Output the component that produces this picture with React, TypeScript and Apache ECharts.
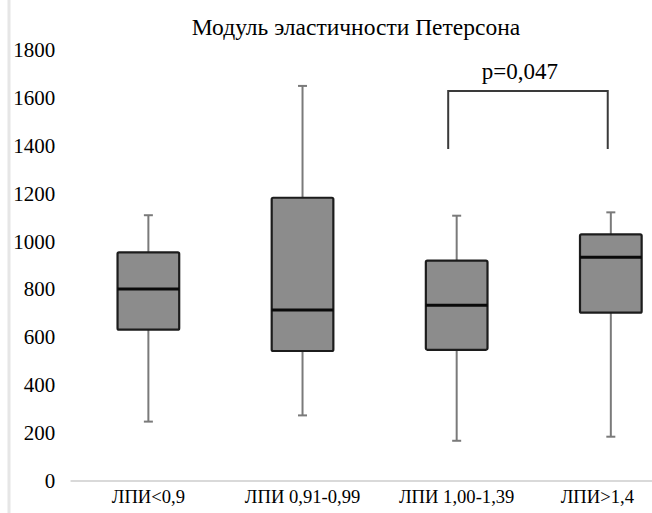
import React, { useEffect, useRef } from "react";
import * as echarts from "echarts";

const TITLE = "Модуль эластичности Петерсона";
const categories = ["ЛПИ<0,9", "ЛПИ 0,91-0,99", "ЛПИ 1,00-1,39", "ЛПИ>1,4"];
const lowWhisker = [248, 274, 168, 185];
const q1 = [632, 543, 548, 703];
const median = [802, 714, 734, 934];
const q3 = [955, 1183, 920, 1030];
const highWhisker = [1110, 1650, 1108, 1122];
const yMin = 0;
const yMax = 1800;
const yInterval = 200;
const pLabel = "p=0,047";
const bracket = [2, 3, 1387, 1629];

const FONT = "Liberation Serif";

export default function App() {
  const ref = useRef<HTMLDivElement>(null);
  useEffect(() => {
    document.body.style.margin = "0";
    const chart = echarts.init(ref.current!, undefined, { renderer: "svg" });
    const boxData = categories.map((_, i) => [
      i,
      lowWhisker[i],
      q1[i],
      median[i],
      q3[i],
      highWhisker[i],
    ]);
    const option: any = {
      animation: false,
      title: {
        text: TITLE,
        left: 356,
        top: 15,
        padding: 0,
        textAlign: "center",
        textStyle: { fontSize: 23.5, fontFamily: FONT, fontWeight: "normal", color: "#000" },
      },
      graphic: [
        {
          type: "line",
          shape: { x1: 9, y1: 0, x2: 9, y2: 513 },
          style: { stroke: "#e6e6e6", lineWidth: 3 },
          silent: true,
        },
      ],
      grid: { left: 71.3, top: 50, width: 616.6, height: 431, outerBoundsMode: "none", containLabel: false },
      xAxis: {
        type: "category",
        data: categories.map((c, i) =>
          i === categories.length - 1 ? { value: c, textStyle: { padding: [0, 27, 0, 0] } } : c
        ),
        axisLine: { show: true, lineStyle: { color: "#d9d9d9", width: 2 } },
        axisTick: { show: false },
        splitLine: { show: false },
        axisLabel: { interval: 0, fontSize: 18.6, fontFamily: FONT, color: "#000", margin: 6, hideOverlap: false },
      },
      yAxis: {
        type: "value",
        min: yMin,
        max: yMax,
        interval: yInterval,
        axisLine: { show: false },
        axisTick: { show: false },
        splitLine: { show: false },
        axisLabel: {
          fontSize: 21,
          fontFamily: FONT,
          color: "#000",
          margin: 16,
          formatter: (v: number) => String(v),
        },
      },
      series: [
        {
          type: "custom",
          data: boxData,
          encode: { x: 0, y: [1, 2, 3, 4, 5] },
          renderItem: (params: any, api: any) => {
            const i = api.value(0);
            const pLow = api.coord([i, api.value(1)]);
            const pQ1 = api.coord([i, api.value(2)]);
            const pMed = api.coord([i, api.value(3)]);
            const pQ3 = api.coord([i, api.value(4)]);
            const pHigh = api.coord([i, api.value(5)]);
            const band = api.size([1, 0])[0];
            const bw = band * 0.4;
            const cx = pMed[0];
            const cap = 4.5;
            const wStyle = { stroke: "#7a7a7a", lineWidth: 2 };
            return {
              type: "group",
              children: [
                { type: "line", shape: { x1: cx, y1: pQ3[1], x2: cx, y2: pHigh[1] }, style: wStyle },
                { type: "line", shape: { x1: cx - cap, y1: pHigh[1], x2: cx + cap, y2: pHigh[1] }, style: wStyle },
                { type: "line", shape: { x1: cx, y1: pQ1[1], x2: cx, y2: pLow[1] }, style: wStyle },
                { type: "line", shape: { x1: cx - cap, y1: pLow[1], x2: cx + cap, y2: pLow[1] }, style: wStyle },
                {
                  type: "rect",
                  shape: { x: cx - bw / 2, y: pQ3[1], width: bw, height: pQ1[1] - pQ3[1], r: 1.5 },
                  style: { fill: "#8c8c8c", stroke: "#1c1c1c", lineWidth: 2.2 },
                },
                {
                  type: "line",
                  shape: { x1: cx - bw / 2, y1: pMed[1], x2: cx + bw / 2, y2: pMed[1] },
                  style: { stroke: "#0a0a0a", lineWidth: 3 },
                },
              ],
            };
          },
          z: 2,
        },
        {
          type: "custom",
          data: [bracket],
          encode: { x: [0, 1], y: [2, 3] },
          renderItem: (params: any, api: any) => {
            const a = api.value(0);
            const b = api.value(1);
            const band = api.size([1, 0])[0];
            const pA = api.coord([a, api.value(2)]);
            const pB = api.coord([b, api.value(2)]);
            const pTop = api.coord([a, api.value(3)]);
            const xl = pA[0] - band * 0.055;
            const xr = pB[0] - band * 0.02;
            const mid = (xl + xr) / 2 - 8;
            return {
              type: "group",
              children: [
                {
                  type: "polyline",
                  shape: { points: [[xl, pA[1]], [xl, pTop[1]], [xr, pTop[1]], [xr, pB[1]]] },
                  style: { stroke: "#3a3a3a", lineWidth: 2, fill: "none" },
                },
                {
                  type: "text",
                  x: mid,
                  y: pTop[1] - 19,
                  style: {
                    text: pLabel,
                    fontSize: 23,
                    fontFamily: FONT,
                    fill: "#000",
                    align: "center",
                    verticalAlign: "middle",
                  },
                },
              ],
            };
          },
          z: 3,
        },
      ],
    };
    chart.setOption(option);
    return () => chart.dispose();
  }, []);
  return <div ref={ref} style={{ width: 652, height: 513 }} />;
}
